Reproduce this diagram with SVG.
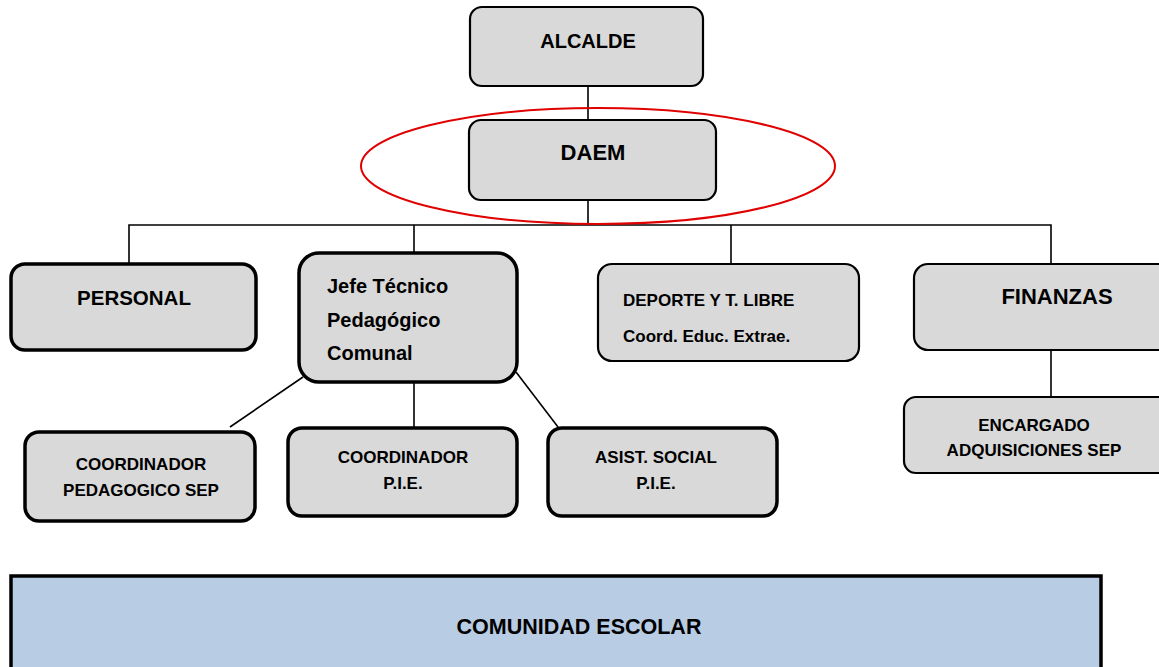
<svg xmlns="http://www.w3.org/2000/svg" width="1159" height="667" viewBox="0 0 1159 667">
<style>
.box{fill:#d9d9d9;stroke:#000;stroke-width:2.2}
.thick{stroke-width:3.5}
.line{stroke:#000;stroke-width:1.6;fill:none}
text{font-family:"Liberation Sans",Arial,sans-serif;font-weight:bold;fill:#000;text-anchor:middle}
</style>
<rect width="1159" height="667" fill="#fff"/>
<g id="connectors">
<line class="line" x1="588" y1="86" x2="588" y2="121"/>
<line class="line" x1="588" y1="199" x2="588" y2="225"/>
<polyline class="line" points="129,264 129,225 1051,225 1051,265"/>
<line class="line" x1="414" y1="225" x2="414" y2="253"/>
<line class="line" x1="731" y1="225" x2="731" y2="265"/>
<line class="line" x1="1051" y1="348" x2="1051" y2="398"/>
<line class="line" x1="303" y1="377" x2="230" y2="427"/>
<line class="line" x1="414" y1="382" x2="414" y2="428"/>
<line class="line" x1="516" y1="372" x2="558" y2="427"/>
</g>
<g id="alcalde"><rect class="box" x="470" y="7" width="233" height="79" rx="12"/><text x="588" y="48" font-size="20">ALCALDE</text></g>
<g id="daem"><rect class="box" x="469" y="120" width="247" height="80" rx="12"/><text x="593" y="160" font-size="22">DAEM</text></g>
<g id="daem-highlight"><ellipse cx="598" cy="166" rx="237" ry="58" fill="none" stroke="#e00000" stroke-width="2"/></g>
<g id="personal"><rect class="box thick" x="11" y="264" width="245" height="86" rx="14"/><text x="134" y="305" font-size="20.5">PERSONAL</text></g>
<g id="jefe"><rect class="box thick" x="299" y="253" width="218" height="129" rx="20"/>
<text x="327" y="293" font-size="20" style="text-anchor:start">Jefe Técnico</text>
<text x="327" y="327" font-size="20" style="text-anchor:start">Pedagógico</text>
<text x="327" y="360" font-size="20" style="text-anchor:start">Comunal</text></g>
<g id="deporte"><rect class="box" x="598" y="264" width="261" height="97" rx="14"/>
<text x="623" y="306" font-size="17" style="text-anchor:start">DEPORTE Y T. LIBRE</text>
<text x="623" y="342" font-size="17" style="text-anchor:start">Coord. Educ. Extrae.</text></g>
<g id="finanzas"><rect class="box" x="914" y="264" width="260" height="86" rx="14"/><text x="1057" y="304" font-size="22">FINANZAS</text></g>
<g id="encargado"><rect class="box" x="904" y="397" width="270" height="76" rx="12"/>
<text x="1034" y="431" font-size="17">ENCARGADO</text>
<text x="1034" y="456" font-size="17">ADQUISICIONES SEP</text></g>
<g id="coord-sep"><rect class="box thick" x="25" y="432" width="230" height="89" rx="14"/>
<text x="141" y="470" font-size="17">COORDINADOR</text>
<text x="141" y="496" font-size="17">PEDAGOGICO SEP</text></g>
<g id="coord-pie"><rect class="box thick" x="288" y="428" width="229" height="88" rx="14"/>
<text x="403" y="463" font-size="17">COORDINADOR</text>
<text x="403" y="489" font-size="17">P.I.E.</text></g>
<g id="asist-social"><rect class="box thick" x="548" y="428" width="229" height="88" rx="14"/>
<text x="656" y="463" font-size="17">ASIST. SOCIAL</text>
<text x="656" y="489" font-size="17">P.I.E.</text></g>
<g id="comunidad"><rect x="11" y="576" width="1090" height="95" fill="#b8cce4" stroke="#000" stroke-width="3.5"/><text x="579" y="634" font-size="21.5">COMUNIDAD ESCOLAR</text></g>
</svg>
